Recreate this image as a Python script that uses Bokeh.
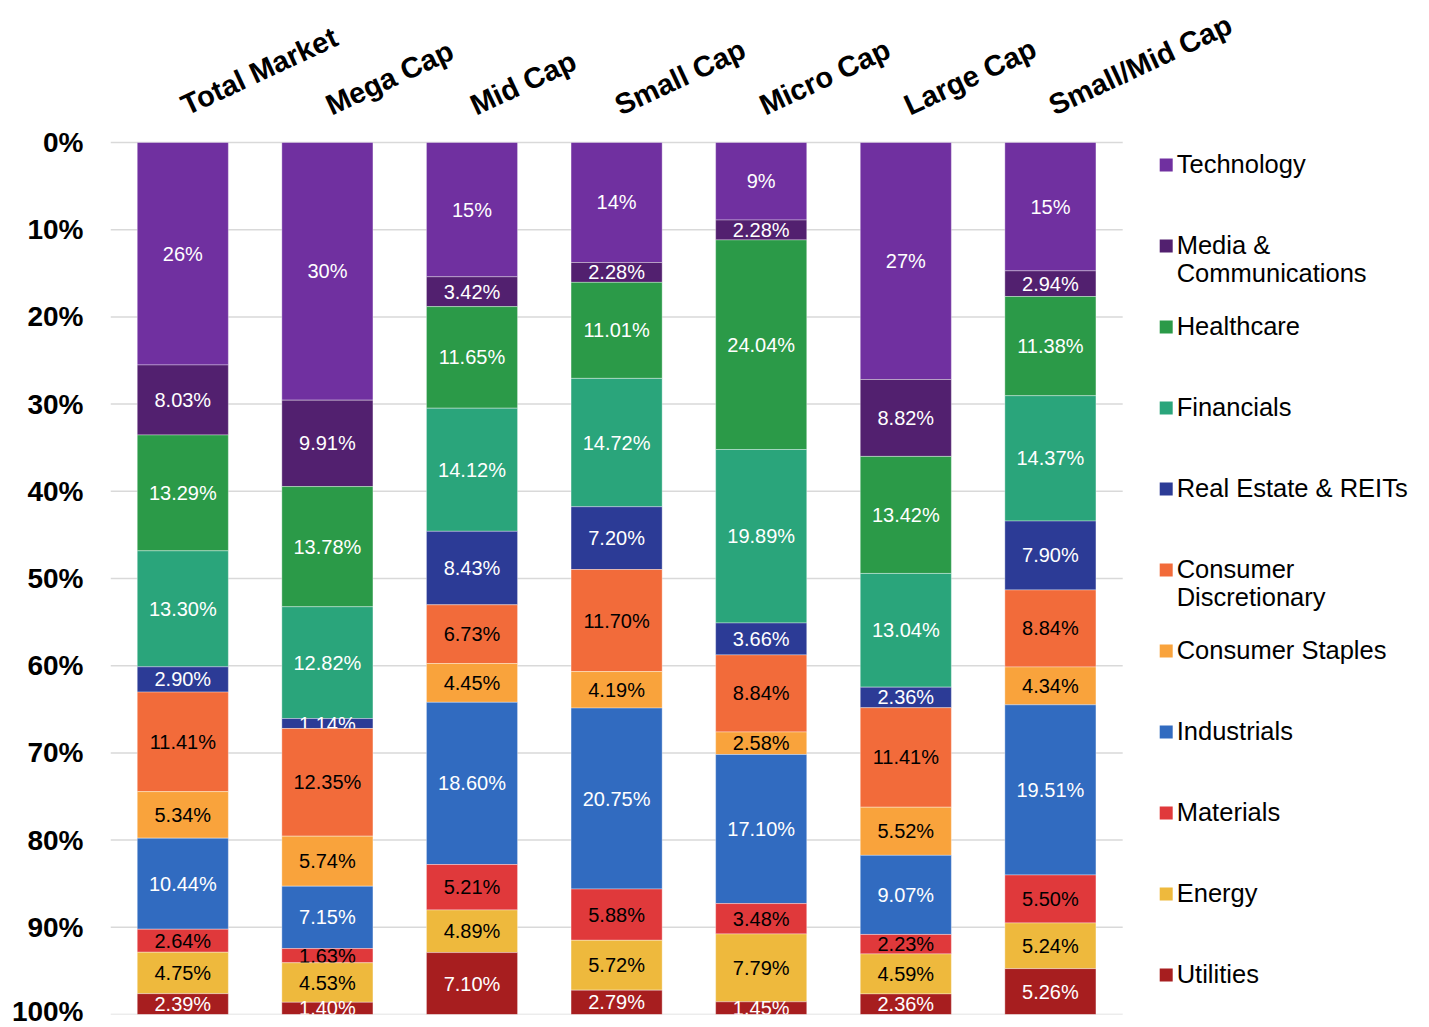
import numpy as np
from bokeh.plotting import figure
from bokeh.models import Range1d, FixedTicker
from bokeh.core.properties import value
from bokeh.embed import file_html
from bokeh.resources import INLINE

# ---------------- data ----------------
categories = ["Total Market", "Mega Cap", "Mid Cap", "Small Cap", "Micro Cap", "Large Cap", "Small/Mid Cap"]
sectors = ["Technology", "Media &\nCommunications", "Healthcare", "Financials",
           "Real Estate & REITs", "Consumer\nDiscretionary", "Consumer Staples",
           "Industrials", "Materials", "Energy", "Utilities"]

technology   = [25.51, 29.55, 15.40, 13.76, 8.89, 27.18, 14.72]
media        = [8.03, 9.91, 3.42, 2.28, 2.28, 8.82, 2.94]
healthcare   = [13.29, 13.78, 11.65, 11.01, 24.04, 13.42, 11.38]
financials   = [13.30, 12.82, 14.12, 14.72, 19.89, 13.04, 14.37]
real_estate  = [2.90, 1.14, 8.43, 7.20, 3.66, 2.36, 7.90]
cons_disc    = [11.41, 12.35, 6.73, 11.70, 8.84, 11.41, 8.84]
cons_staples = [5.34, 5.74, 4.45, 4.19, 2.58, 5.52, 4.34]
industrials  = [10.44, 7.15, 18.60, 20.75, 17.10, 9.07, 19.51]
materials    = [2.64, 1.63, 5.21, 5.88, 3.48, 2.23, 5.50]
energy       = [4.75, 4.53, 4.89, 5.72, 7.79, 4.59, 5.24]
utilities    = [2.39, 1.40, 7.10, 2.79, 1.45, 2.36, 5.26]

y_ticks = [0, 10, 20, 30, 40, 50, 60, 70, 80, 90, 100]
y_tick_labels = ["0%", "10%", "20%", "30%", "40%", "50%", "60%", "70%", "80%", "90%", "100%"]

# ---------------- styles ----------------
series = [technology, media, healthcare, financials, real_estate, cons_disc,
          cons_staples, industrials, materials, energy, utilities]
colors = ["#7030A0", "#52206F", "#2B9A48", "#2AA57B", "#2C3B96", "#F26B3A",
          "#F9A33C", "#316BC0", "#E0393B", "#EEB93D", "#A71E1F"]
label_colors = ["white", "white", "white", "white", "white", "black",
                "black", "white", "black", "black", "white"]
label_fmt = ["{:.0f}%"] + ["{:.2f}%"] * 10

FONT = value("Liberation Sans")
PX_X = 144.6      # pixels per category step
PX_Y = 8.72       # pixels per percent

n = len(categories)
xs = np.arange(n)

W, H = 1421, 1026
left_border, top_border, bottom_border = 110, 8, 12
frame_w = W - left_border
frame_h = H - top_border - bottom_border
x_end = -0.5 + frame_w / PX_X
y_top = -(frame_h / PX_Y - 100)

p = figure(width=W, height=H, output_backend="svg", toolbar_location=None,
           x_range=Range1d(-0.5, x_end), y_range=Range1d(100, y_top),
           x_axis_location=None, min_border_left=left_border, min_border_right=0,
           min_border_top=top_border, min_border_bottom=bottom_border)
p.outline_line_color = None
p.xgrid.visible = False
p.ygrid.visible = False
p.background_fill_color = "white"
p.border_fill_color = "white"

# horizontal gridlines over the bar area only
p.segment(x0=[-0.5] * len(y_ticks), x1=[n - 0.5] * len(y_ticks), y0=y_ticks, y1=y_ticks,
          line_color="#d9d9d9", line_width=1.5)

# stacked bars
bottom = np.zeros(n)
for vals, col, lcol, fmt in zip(series, colors, label_colors, label_fmt):
    v = np.array(vals)
    top = bottom + v
    p.vbar(x=xs, bottom=bottom, top=top, width=0.63, fill_color=col,
           line_color="white", line_alpha=0.35, line_width=1)
    p.text(x=xs, y=bottom + v / 2, text=[fmt.format(a) for a in v],
           text_align="center", text_baseline="middle", text_color=lcol,
           text_font=FONT, text_font_size="20px")
    bottom = top

# category headers
p.text(x=xs, y=[-4.1] * n, text=categories, angle=25, angle_units="deg",
       text_align="left", text_baseline="alphabetic", text_color="black",
       text_font=FONT, text_font_size="29px", text_font_style="bold")

# y axis
ax = p.yaxis[0]
ax.ticker = FixedTicker(ticks=y_ticks)
ax.major_label_overrides = dict(zip(y_ticks, y_tick_labels))
ax.axis_line_color = None
ax.major_tick_line_color = None
ax.minor_tick_line_color = None
ax.major_tick_out = 0
ax.major_tick_in = 0
ax.major_label_standoff = 27
ax.major_label_text_font = "Liberation Sans"
ax.major_label_text_font_size = "28px"
ax.major_label_text_font_style = "bold"
ax.major_label_text_color = "black"

# legend (manual, right of bars)
leg_sq_x = n - 0.5 + 43.5 / PX_X
leg_tx_x = n - 0.5 + 54 / PX_X
leg_y0 = 22.5 / PX_Y
leg_step = 81 / PX_Y
line_h = 29 / PX_Y
leg_y = [leg_y0 + i * leg_step for i in range(len(sectors))]
leg_text_y = [y + (s.count("\n")) * line_h / 2 - 1.5 / PX_Y for y, s in zip(leg_y, sectors)]
p.scatter(x=[leg_sq_x] * len(sectors), y=leg_y, marker="square", size=13,
          fill_color=colors, line_color=None)
p.text(x=[leg_tx_x] * len(sectors), y=leg_text_y, text=sectors,
       text_align="left", text_baseline="middle", text_color="black",
       text_font=FONT, text_font_size="25.5px", text_line_height=1.02)

open("out.html", "w").write(file_html(p, INLINE))
